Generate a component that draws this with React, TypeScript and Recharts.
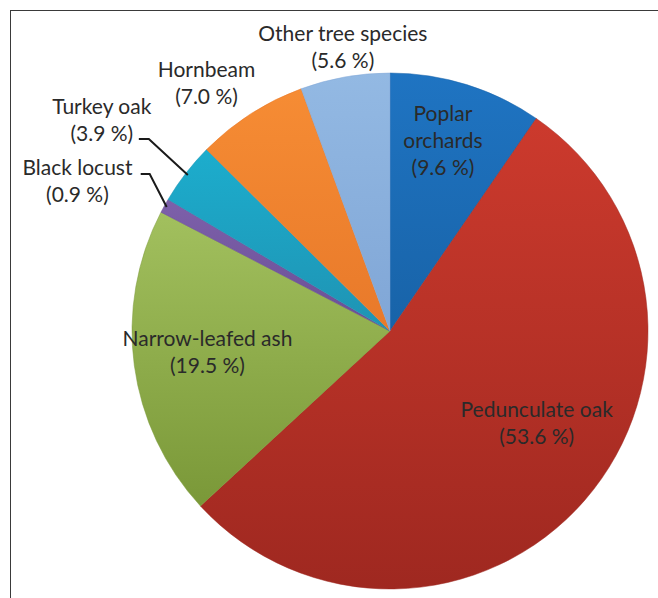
import React from 'react';
import { PieChart, Pie, Cell } from 'recharts';

const SPECIES = [
  'Poplar orchards',
  'Pedunculate oak',
  'Narrow-leafed ash',
  'Black locust',
  'Turkey oak',
  'Hornbeam',
  'Other tree species',
];
const SHARES = [9.6, 53.6, 19.5, 0.9, 3.9, 7.0, 5.6];

const data = SPECIES.map((name, i) => ({ name, value: SHARES[i] }));

// top / bottom gradient stops per slice (Excel 2007 look)
const GRADIENTS = [
  ['#1f74c2', '#1863a8'],
  ['#cc3a2d', '#9f2820'],
  ['#a2c05e', '#7a9838'],
  ['#7d60aa', '#6a4f95'],
  ['#1cadcd', '#1f93b3'],
  ['#f68c34', '#e8792a'],
  ['#93b9e3', '#80a6d6'],
];

// label placement, relative to the point at midAngle on k * outerRadius
const LABELS: Record<string, any> = {
  'Poplar orchards': { k: 0.77, dx: -6, dy: -2, wrap: true },
  'Pedunculate oak': { k: 0.66, dx: 18, dy: -21 },
  'Narrow-leafed ash': { k: 0.71, dx: -1, dy: -4 },
  'Black locust': { k: 1, dx: -87, dy: -26, leader: [-17, -33, 9] },
  'Turkey oak': { k: 1, dx: -84, dy: -54, leader: [-39, -36, 10] },
  Hornbeam: { k: 1, dx: -44, dy: -32 },
  'Other tree species': { k: 1, dx: -2, dy: -31 },
};

const RAD = Math.PI / 180;
const LINE_H = 27;

const renderLabel = (props: any) => {
  const { cx, cy, midAngle, outerRadius, name, value } = props;
  const cfg = LABELS[name];
  if (!cfg) return null;
  const cos = Math.cos(-midAngle * RAD);
  const sin = Math.sin(-midAngle * RAD);
  const ax = cx + outerRadius * cfg.k * cos;
  const ay = cy + outerRadius * cfg.k * sin;
  const x = ax + cfg.dx;
  const y = ay + cfg.dy;
  const lines = (cfg.wrap ? name.split(' ') : [name]).concat(`(${value.toFixed(1)} %)`);
  const top = y - ((lines.length - 1) * LINE_H) / 2;

  let leader = null;
  if (cfg.leader) {
    const ex = cx + outerRadius * 0.99 * cos;
    const ey = cy + outerRadius * 0.99 * sin;
    const [bx, by, hl] = cfg.leader;
    const kx = ex + bx;
    const ky = ey + by;
    leader = (
      <path
        d={`M${ex},${ey}L${kx},${ky}L${kx - hl},${ky}`}
        stroke="#1a1a1a"
        strokeWidth={2}
        fill="none"
      />
    );
  }

  return (
    <g>
      {leader}
      {lines.map((t: string, i: number) => (
        <text
          key={i}
          x={x}
          y={top + i * LINE_H}
          textAnchor="middle"
          dominantBaseline="central"
          fill="#2a2a2a"
          fontSize={21}
          fontFamily="Lato, 'Open Sans', sans-serif"
        >
          {t}
        </text>
      ))}
    </g>
  );
};

export default function App() {
  return (
    <div
      style={{
        position: 'absolute',
        left: 0,
        top: 0,
        width: 658,
        height: 598,
        overflow: 'hidden',
        background: '#fff',
      }}
    >
      <div
        style={{
          position: 'absolute',
          left: 10,
          top: 10,
          width: 700,
          height: 700,
          borderTop: '1.5px solid #3a3a3a',
          borderLeft: '1.5px solid #3a3a3a',
        }}
      />
      <div style={{ position: 'absolute', left: 0, top: 0 }}>
        <PieChart width={658} height={598} margin={{ top: 0, right: 0, bottom: 0, left: 0 }}>
          <defs>
            {GRADIENTS.map(([a, b], i) => (
              <linearGradient key={i} id={`slice-${i}`} x1="0" y1="0" x2="0" y2="1">
                <stop offset="0%" stopColor={a} />
                <stop offset="100%" stopColor={b} />
              </linearGradient>
            ))}
            <filter id="pie-shadow" x="-10%" y="-10%" width="120%" height="120%">
              <feDropShadow dx="2" dy="2" stdDeviation="2" floodColor="#000" floodOpacity="0.18" />
            </filter>
          </defs>
          <Pie
            data={data}
            dataKey="value"
            nameKey="name"
            cx={390}
            cy={331}
            outerRadius={258}
            startAngle={90}
            endAngle={-270}
            label={renderLabel}
            labelLine={false}
            isAnimationActive={false}
          >
            {data.map((_, i) => (
              <Cell key={`cell-${i}`} fill={`url(#slice-${i})`} stroke={GRADIENTS[i][1]} strokeWidth={0.5} />
            ))}
          </Pie>
        </PieChart>
      </div>
    </div>
  );
}
